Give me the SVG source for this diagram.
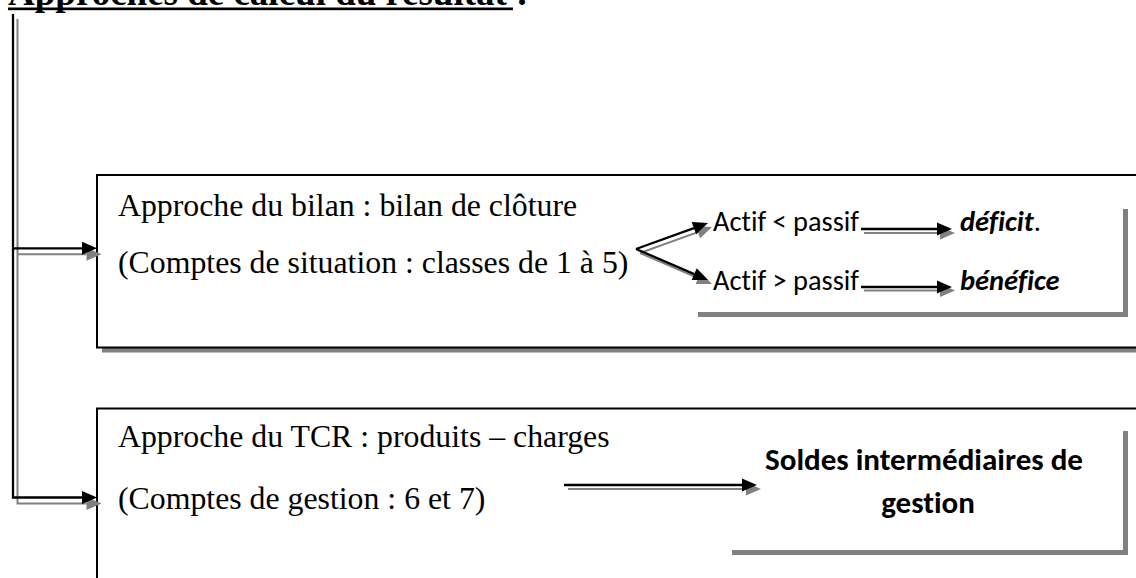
<svg xmlns="http://www.w3.org/2000/svg" width="1136" height="578" viewBox="0 0 1136 578">
  <style>
    .serif { font-family: "Liberation Serif", "Times New Roman", serif; font-size: 31.8px; fill: #000; }
    .title { font-family: "Liberation Serif", "Times New Roman", serif; font-size: 37px; font-weight: bold; fill: #000; }
    .sans { font-family: Carlito, Calibri, Lato, "Liberation Sans", sans-serif; font-size: 28.5px; fill: #000; font-variant-ligatures: none; font-feature-settings: "liga" 0, "clig" 0, "dlig" 0; }
    .big { font-size: 31px; font-weight: bold; }
    .bi { font-weight: bold; font-style: italic; }
    .frame { fill: #fff; stroke: #000; stroke-width: 2; }
    .shadow { fill: #808080; stroke: none; }
    .panel { fill: #fff; stroke: none; }
    .wire { fill: none; stroke: #000; stroke-width: 2.3; }
    .wire-sh { fill: none; stroke: #808080; stroke-width: 2; }
  </style>
  <defs>
    <marker id="head" markerUnits="userSpaceOnUse" markerWidth="16" markerHeight="14" refX="0" refY="6.5" orient="auto" overflow="visible">
      <path d="M0,0 L15,6.5 L0,13 Z" fill="#000"/>
    </marker>
    <marker id="head-sh" markerUnits="userSpaceOnUse" markerWidth="16" markerHeight="14" refX="0" refY="6.5" orient="auto" overflow="visible">
      <path d="M0,0 L15,6.5 L0,13 Z" fill="#808080"/>
    </marker>
  </defs>

  <rect width="1136" height="578" fill="#fff"/>

  <!-- heading -->
  <g id="heading">
    <text class="title" x="8" y="5">Approches de calcul du résultat :</text>
    <rect x="8" y="7.5" width="505" height="2.7" fill="#000"/>
  </g>

  <!-- balance-sheet approach -->
  <g id="node-bilan">
    <rect class="shadow" x="102" y="180" width="1100" height="172.5"/>
    <rect class="frame" x="97" y="175" width="1100" height="172.5"/>
    <text class="serif" x="118" y="216">Approche du bilan : bilan de clôture</text>
    <text class="serif" x="118" y="273">(Comptes de situation : classes de 1 à 5)</text>
  </g>

  <g id="node-resultat-bilan">
    <rect class="shadow" x="698" y="209" width="430" height="108"/>
    <rect class="panel" x="693" y="204" width="430" height="108"/>
    <text class="sans" x="713" y="231" textLength="146" lengthAdjust="spacingAndGlyphs">Actif &lt; passif</text>
    <text class="sans" x="713" y="290" textLength="146" lengthAdjust="spacingAndGlyphs">Actif &gt; passif</text>
    <text class="sans" x="960" y="231"><tspan class="bi">déficit</tspan>.</text>
    <text class="sans bi" x="960" y="290">bénéfice</text>
  </g>

  <!-- income-statement approach -->
  <g id="node-tcr">
    <rect class="shadow" x="102" y="413.5" width="1100" height="300"/>
    <rect class="frame" x="97" y="408.5" width="1100" height="300"/>
    <text class="serif" x="118" y="447">Approche du TCR : produits – charges</text>
    <text class="serif" x="118" y="509">(Comptes de gestion : 6 et 7)</text>
  </g>

  <g id="node-sig">
    <rect class="shadow" x="732" y="431" width="396" height="124"/>
    <rect class="panel" x="727" y="426" width="396" height="124"/>
    <text class="sans big" x="924" y="470" text-anchor="middle" textLength="318" lengthAdjust="spacingAndGlyphs">Soldes intermédiaires de</text>
    <text class="sans big" x="928" y="513" text-anchor="middle">gestion</text>
  </g>

  <!-- connectors: grey offset shadows first, black strokes on top -->
  <g id="connectors">
    <path class="wire-sh" d="M17.5,19 V503.5 H86.5" marker-end="url(#head-sh)"/>
    <path class="wire-sh" d="M17.5,254.3 H86.5" marker-end="url(#head-sh)"/>
    <path class="wire" d="M13,14 V497.5 H82" marker-end="url(#head)"/>
    <path class="wire" d="M13,248.3 H82" marker-end="url(#head)"/>

    <path class="wire-sh" d="M640,253 L697.9,232.1" marker-end="url(#head-sh)"/>
    <path class="wire-sh" d="M640,253 L698.2,278.1" marker-end="url(#head-sh)"/>
    <path class="wire" d="M636,249 L693.9,228.1" marker-end="url(#head)"/>
    <path class="wire" d="M636,249 L694.2,274.1" marker-end="url(#head)"/>

    <path class="wire-sh" d="M864,233 H940" marker-end="url(#head-sh)"/>
    <path class="wire-sh" d="M864,290.5 H940" marker-end="url(#head-sh)"/>
    <path class="wire" d="M861,229 H937" marker-end="url(#head)"/>
    <path class="wire" d="M861,287 H937" marker-end="url(#head)"/>

    <path class="wire-sh" d="M568,489 H746" marker-end="url(#head-sh)"/>
    <path class="wire" d="M564,485 H742" marker-end="url(#head)"/>
  </g>
</svg>
